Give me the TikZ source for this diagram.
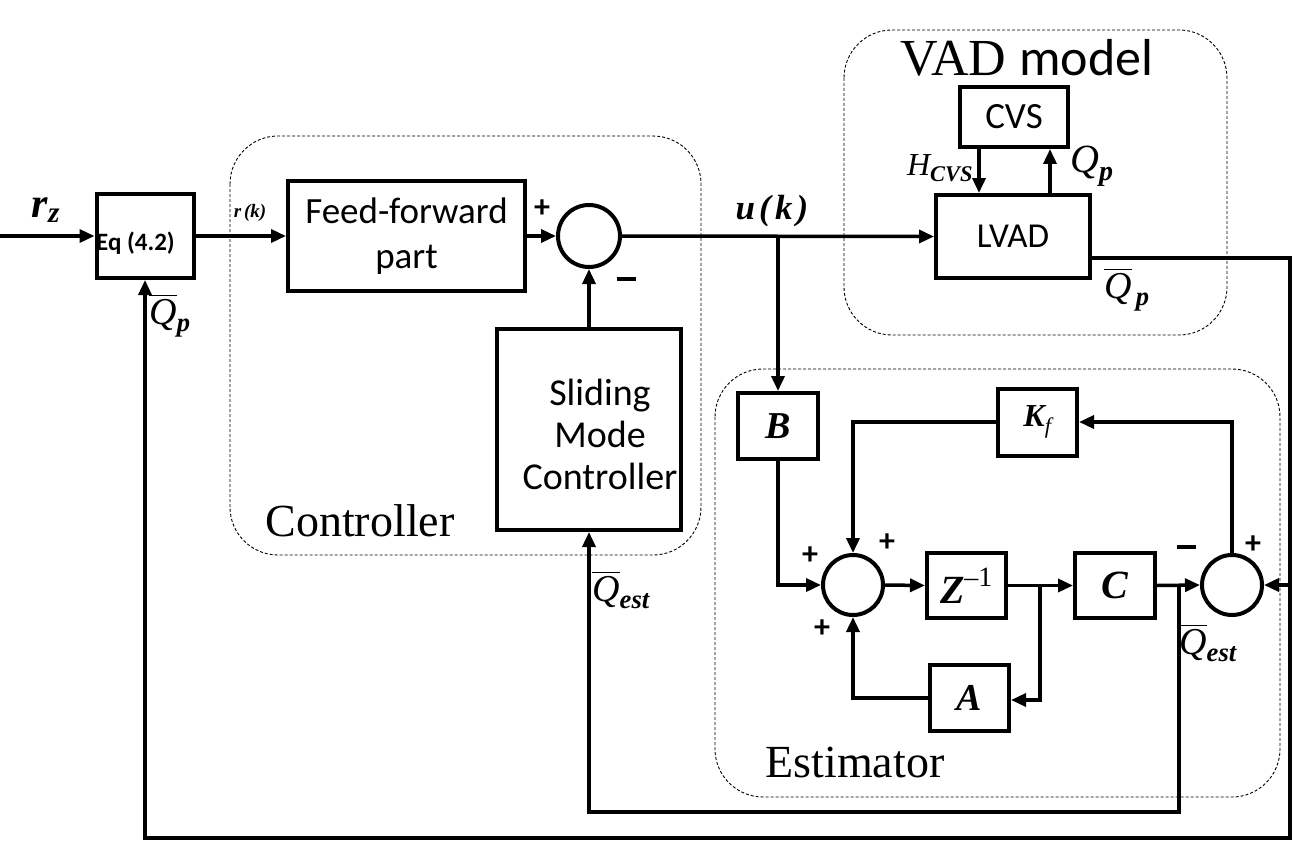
\documentclass[tikz,border=0pt]{standalone}
\usepackage{amsmath}
\usepackage{fontspec}
\setmainfont{Liberation Serif}
\newfontfamily\calib{Carlito}
\usetikzlibrary{arrows.meta,calc}
\newcommand\bi[1]{\text{\bfseries\itshape #1}}
\newcommand\ti[1]{\text{\itshape #1}}
\tikzset{
  blk/.style={draw, line width=4pt, rectangle, inner sep=0pt, align=center},
  sumc/.style={draw, line width=4pt, circle, inner sep=0pt, minimum size=#1},
  conn/.style={line width=3.5pt, -{Triangle[length=15pt,width=13pt]}},
  wire/.style={line width=3.5pt},
  grp/.style={draw, line width=0.9pt, dash pattern=on 3pt off 2pt, rounded corners=48pt},
  sgn/.style={font=\calib\bfseries\fontsize{32}{32}\selectfont, inner sep=0pt},
  lbl/.style={inner sep=0pt}
}
\begin{document}
\begin{tikzpicture}[x=1pt,y=-1pt]
\useasboundingbox (0,0) rectangle (1296,848);
% groups
\draw[grp] (230,136) rectangle (701,555);
\draw[grp] (844,30) rectangle (1227,335);
\draw[grp] (715,369) rectangle (1280,797);
\node[lbl, font=\fontsize{46}{46}\selectfont] (ctrlt) at (360,521) {Controller};
\node[lbl, font=\fontsize{46}{46}\selectfont] (estt) at (855,762) {Estimator};
\node[lbl, font=\fontsize{52}{52}\selectfont] (vadt) at (1027,58) {VAD {\calib model}};
% blocks
\node[blk, minimum width=97pt, minimum height=84pt] (eq) at (145,236) {};
\node[lbl, font=\calib\bfseries\fontsize{25}{25}\selectfont, anchor=west] (eqt) at (96,243) {Eq (4.2)};
\node[blk, minimum width=237pt, minimum height=110pt, font=\calib\fontsize{37}{45}\selectfont] (ff) at (406.5,236) {Feed-forward\\part};
\node[sumc=62pt] (s1) at (589,236) {};
\node[blk, minimum width=184pt, minimum height=201pt] (smc) at (589,429.5) {};
\node[lbl, font=\calib\fontsize{38}{42}\selectfont, align=center] (smct) at (600,434) {Sliding\\Mode\\Controller};
\node[blk, minimum width=108pt, minimum height=60pt, font=\calib\fontsize{37}{37}\selectfont] (cvs) at (1014,117) {CVS};
\node[blk, minimum width=154pt, minimum height=83pt, font=\calib\fontsize{35}{35}\selectfont] (lvad) at (1013,236.5) {LVAD};
\node[blk, minimum width=80pt, minimum height=66pt, font=\fontsize{38}{38}\selectfont] (B) at (778,426) {$\bi{B}$};
\node[blk, minimum width=79pt, minimum height=67pt, font=\fontsize{32}{32}\selectfont] (kf) at (1037.5,422) {$\bi{K}_{\ti{f}}$};
\node[sumc=60pt] (s2) at (853,585) {};
\node[blk, minimum width=79pt, minimum height=65pt, font=\fontsize{40}{40}\selectfont] (z) at (966.5,585.5) {$\bi{Z}^{\text{–1}}$};
\node[blk, minimum width=80pt, minimum height=65pt, font=\fontsize{40}{40}\selectfont] (c) at (1115,585.5) {$\bi{C}$};
\node[blk, minimum width=79pt, minimum height=66pt, font=\fontsize{38}{38}\selectfont] (a) at (969.5,698) {$\bi{A}$};
\node[sumc=60pt] (s3) at (1232,585) {};
% helper coordinates
\coordinate (in) at (0,236);
\coordinate (ub) at (778,236);
\coordinate (hx) at (979,0);
\coordinate (qx) at (1050,0);
\coordinate (lo) at ($(lvad.east)+(0,21.5)$);
\coordinate (rb) at (1290,838);
\coordinate (zb) at (1040,585.5);
\coordinate (cb) at (1179,585.5);
\coordinate (cbb) at (1179,812);
% connectors
\draw[conn] (in) -- (eq.west);
\draw[conn] (eq.east) -- (ff.west);
\draw[conn] (ff.east) -- (s1.west);
\draw[conn] (s1.east) -- (lvad.west);
\draw[conn] (ub) -- (B.north);
\draw[conn] (smc.north) -- (s1.south);
\draw[conn] (cvs.south -| hx) -- (lvad.north -| hx);
\draw[conn] (lvad.north -| qx) -- (cvs.south -| qx);
\draw[conn] (lo) -| (rb) -| (eq.south);
\draw[conn] (rb |- s3.east) -- (s3.east);
\draw[conn] (B.south) |- (s2.west);
\draw[conn] (s2.east) -- (z.west);
\draw[conn] (z.east) -- (c.west);
\draw[conn] (zb) |- ($(a.east)+(0,2)$);
\draw[conn] (a.west) -| (s2.south);
\draw[conn] (kf.west) -| (s2.north);
\draw[conn] (s3.north) |- (kf.east);
\draw[conn] (c.east) -- (s3.west);
\draw[conn] (cb) -- (cbb) -| (smc.south);
% signal labels
\node[lbl, font=\fontsize{42}{42}\selectfont] (rz) at (46,210) {$\bi{r}_{\bi{z}}$};
\node[lbl, font=\fontsize{19}{19}\selectfont] (rk) at (250,213) {$\bi{r}\,\bi{(}\bi{k}\bi{)}$};
\node[lbl, font=\fontsize{35}{35}\selectfont] (uk) at (772,211) {$\bi{u}\,\bi{(}\,\bi{k}\,\bi{)}$};
\node[lbl, font=\fontsize{38}{38}\selectfont] (qp1) at (170,316) {$\overline{\ti{Q}}_{\bi{p}}$};
\node[lbl, font=\fontsize{38}{38}\selectfont] (qp2) at (1127,290) {$\overline{\ti{Q}}_{\,\bi{p}}$};
\node[lbl, font=\fontsize{32}{32}\selectfont] (hcvs) at (940,168) {$\ti{H}_{\bi{CVS}}$};
\node[lbl, font=\fontsize{40}{40}\selectfont] (qp3) at (1092,166) {$\ti{Q}_{\bi{p}}$};
\node[lbl, font=\fontsize{38}{38}\selectfont] (qe1) at (621,590) {$\overline{\ti{Q}}_{\bi{est}}$};
\node[lbl, font=\fontsize{38}{38}\selectfont] (qe2) at (1208,643) {$\overline{\ti{Q}}_{\bi{est}}$};
% signs
\node[sgn] (p1) at (542,209) {+};
\node[lbl] (m1) at (626,279) {\rule{19pt}{4pt}};
\node[sgn] (p2) at (810,556) {+};
\node[sgn] (p3) at (887,543) {+};
\node[sgn] (p4) at (822,629) {+};
\node[lbl] (m2) at (1186,547) {\rule{19pt}{4pt}};
\node[sgn] (p5) at (1253,545) {+};
\end{tikzpicture}
\end{document}
